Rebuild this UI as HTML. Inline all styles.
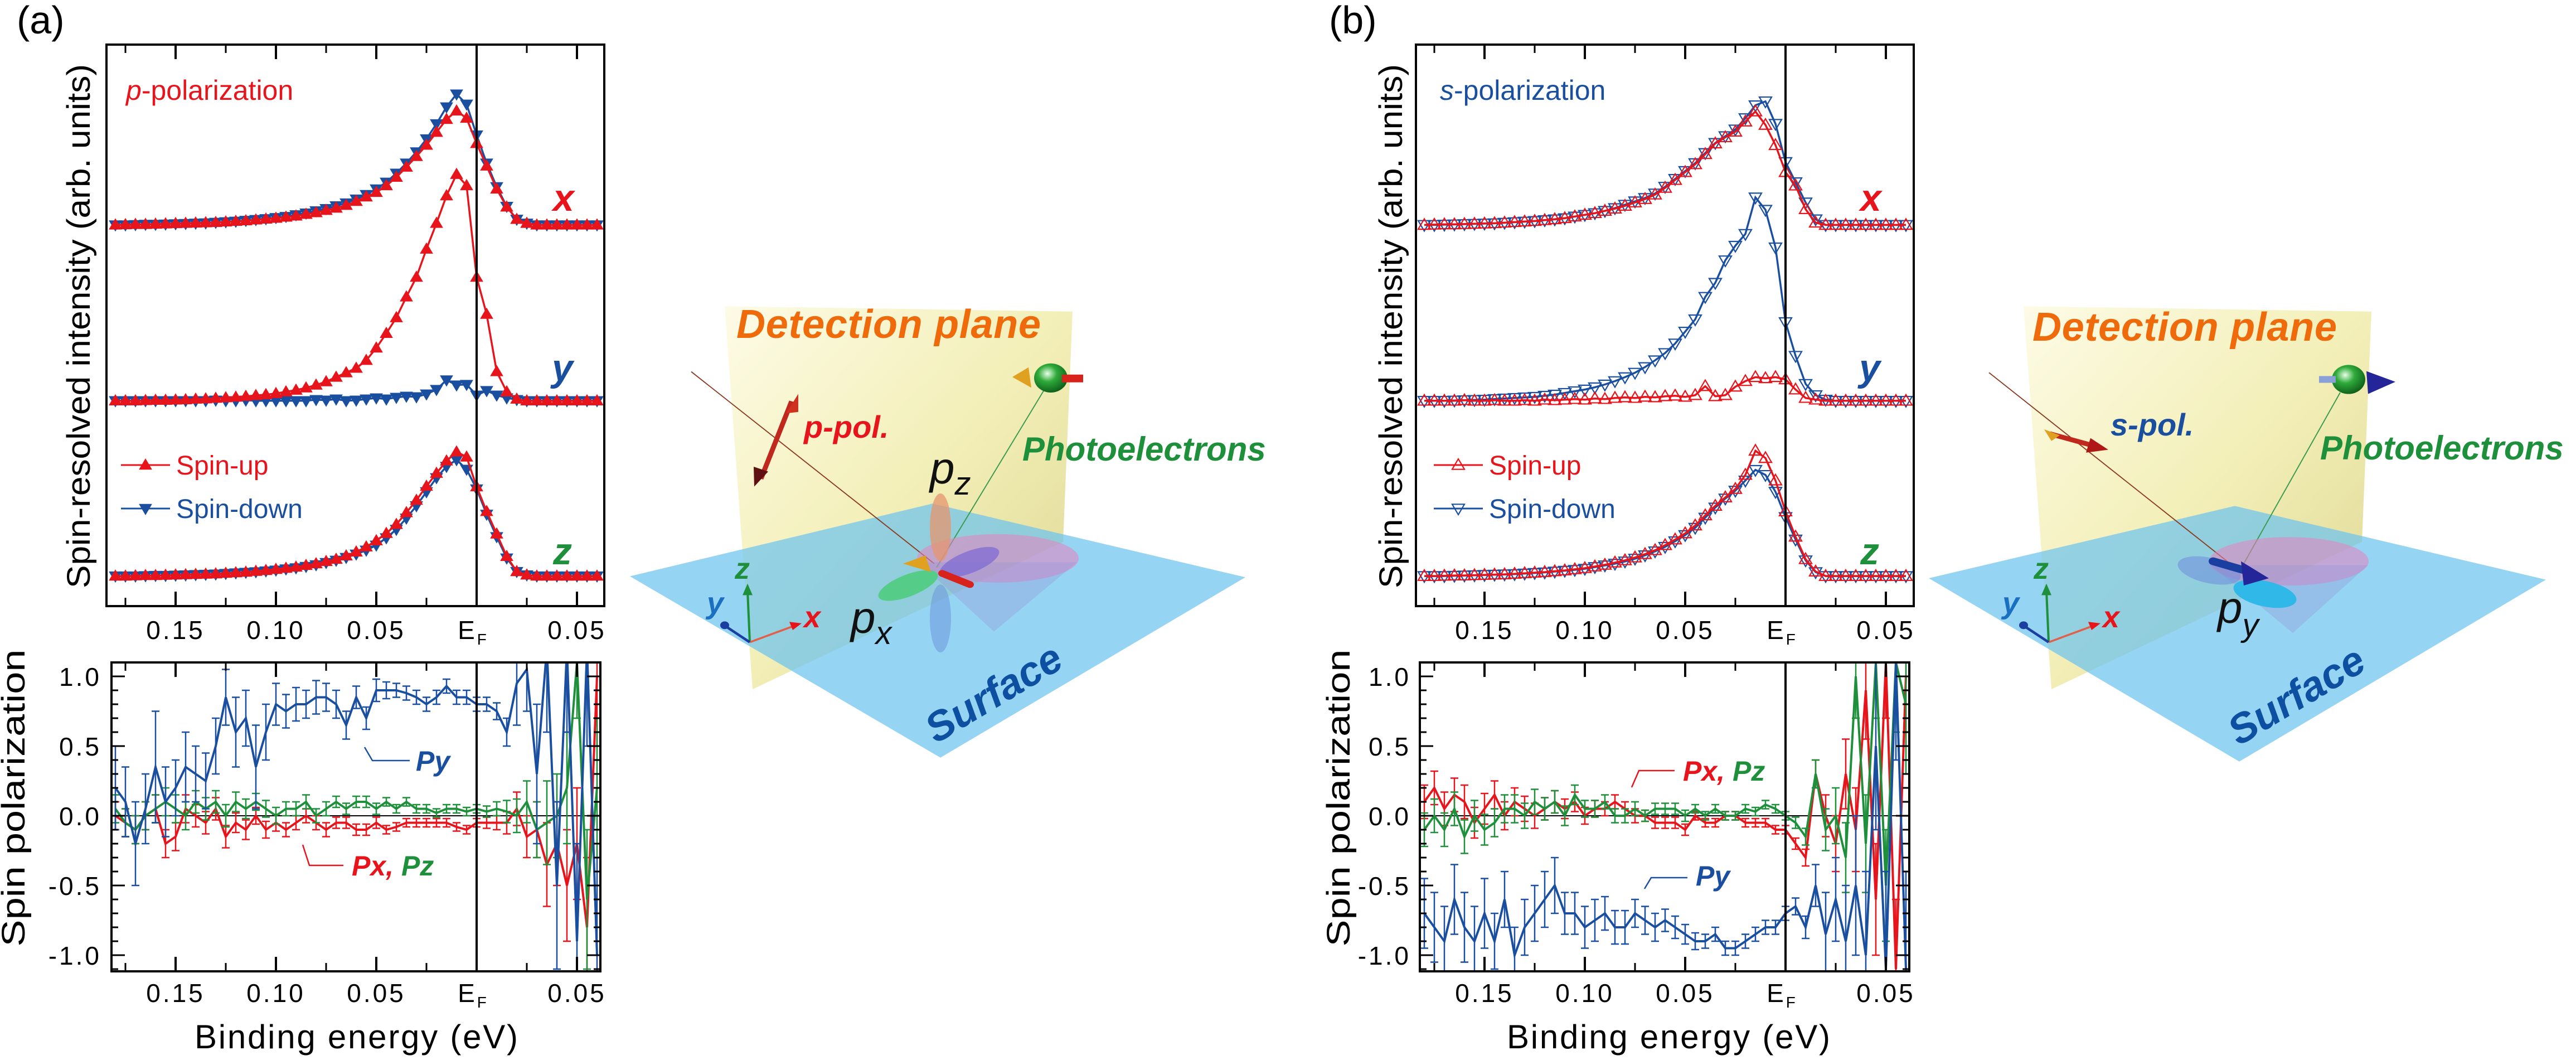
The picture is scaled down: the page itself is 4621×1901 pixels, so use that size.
<!DOCTYPE html>
<html><head><meta charset="utf-8"><style>
html,body{margin:0;padding:0;background:#fff;}
svg{display:block;font-family:"Liberation Sans",Arial,sans-serif;}
</style></head><body>
<svg id="fig" width="4621" height="1901" viewBox="0 0 4621 1901" xmlns="http://www.w3.org/2000/svg">
<defs>
<linearGradient id="yel" x1="0" y1="0" x2="1" y2="1"><stop offset="0" stop-color="#fdfbe6"/><stop offset="0.5" stop-color="#f3efb8"/><stop offset="1" stop-color="#dcd690"/></linearGradient>
<radialGradient id="ball" cx="0.4" cy="0.35" r="0.7"><stop offset="0" stop-color="#e8ffe8"/><stop offset="0.4" stop-color="#2faa3a"/><stop offset="1" stop-color="#0b5a18"/></radialGradient>
<clipPath id="clipA"><rect x="200" y="1188" width="877" height="554"/></clipPath>
<clipPath id="clipB"><rect x="2547" y="1188" width="878" height="554"/></clipPath>
</defs>

<text x="30" y="60" font-size="70">(a)</text>
<text x="2384" y="60" font-size="70">(b)</text>

<!-- Diagram A -->
<g>
 <g transform="matrix(1,0,0,0.8696,0,58.7)">
  <polygon points="1300,564 1924,575 1907,1050 1350,1354" fill="url(#yel)"/>
  <polygon points="1130,1121 1673,971 2234,1123 1687,1495" fill="rgba(110,195,238,0.72)"/>
  <line x1="1240" y1="699" x2="1676" y2="1095" stroke="#8a3a20" stroke-width="2"/>
  <line x1="1885" y1="714" x2="1680" y2="1103" stroke="#3a9a50" stroke-width="2"/>
  <ellipse cx="1790" cy="1084" rx="145" ry="50" fill="rgba(232,130,190,0.55)"/>
  <polygon points="1648,1092 1932,1092 1783,1235" fill="rgba(150,150,215,0.35)"/>
  <ellipse cx="1687" cy="1020" rx="19" ry="70" fill="rgba(230,150,110,0.75)"/>
  <ellipse cx="1687" cy="1208" rx="19" ry="70" fill="rgba(110,150,220,0.55)"/>
  <ellipse cx="1629" cy="1140" rx="58" ry="22" transform="rotate(-25 1629 1140)" fill="#55cc88"/>
  <ellipse cx="1739" cy="1092" rx="58" ry="22" transform="rotate(-25 1739 1092)" fill="rgba(130,110,210,0.8)"/>
  <line x1="1690" y1="1115" x2="1740" y2="1138" stroke="#d8221c" stroke-width="14" stroke-linecap="round"/>
  <polygon points="1620,1095 1660,1078 1670,1112" fill="#e0a020"/>
  <line x1="1420" y1="760" x2="1365" y2="920" stroke="#c0281e" stroke-width="9"/>
  <polygon points="1432,745 1410,785 1432,782" fill="#d0301e"/>
  <polygon points="1353,936 1352,895 1378,905" fill="#601010"/>
  <circle cx="1885" cy="712" r="30" fill="url(#ball)"/>
  <polygon points="1816,710 1845,690 1850,732" fill="#e0a020"/>
  <rect x="1905" y="705" width="38" height="16" fill="#d8221c"/>
  <line x1="1345" y1="1257" x2="1341" y2="1150" stroke="#1e8f3a" stroke-width="4"/>
  <polygon points="1341,1136 1332,1160 1350,1160" fill="#1e8f3a"/>
  <line x1="1345" y1="1257" x2="1425" y2="1223" stroke="#e0604a" stroke-width="4"/>
  <polygon points="1438,1218 1416,1215 1422,1232" fill="#e8141c"/>
  <line x1="1345" y1="1257" x2="1303" y2="1225" stroke="#1a3fa0" stroke-width="5"/>
  <circle cx="1300" cy="1222" r="8" fill="#1a3fa0"/>
 </g>
  <text x="1321" y="606" font-size="72" font-weight="bold" font-style="italic" fill="#ee6a0a" textLength="546">Detection plane</text>
  <text x="1442" y="785" font-size="56" font-weight="bold" font-style="italic" fill="#e8141c">p-pol.</text>
  <text x="1834" y="826" font-size="60" font-weight="bold" font-style="italic" fill="#1e8f3a">Photoelectrons</text>
  <text x="1668" y="867" font-size="80" font-style="italic" fill="#111">p<tspan font-size="58" dy="20">z</tspan></text>
  <text x="1526" y="1135" font-size="80" font-style="italic" fill="#111">p<tspan font-size="58" dy="20">x</tspan></text>
  <text x="1783" y="1268" font-size="74" font-weight="bold" font-style="italic" fill="#0d4fa0" text-anchor="middle" transform="rotate(-31 1783 1244)">Surface</text>
  <text x="1318" y="1038" font-size="54" font-weight="bold" font-style="italic" fill="#1e8f3a">z</text>
  <text x="1442" y="1125" font-size="54" font-weight="bold" font-style="italic" fill="#e8141c">x</text>
  <text x="1268" y="1100" font-size="54" font-weight="bold" font-style="italic" fill="#1b6fc0">y</text>
</g>

<!-- Diagram B -->
<g transform="translate(2330,0)">
 <g transform="matrix(1,0,0,0.8696,0,58.7)">
  <polygon points="1300,564 1924,575 1907,1050 1350,1354" fill="url(#yel)"/>
  <polygon points="1130,1125 1679,976 2237,1128 1687,1503" fill="rgba(110,195,238,0.72)"/>
  <line x1="1238" y1="701" x2="1676" y2="1100" stroke="#8a3a20" stroke-width="2"/>
  <line x1="1868" y1="742" x2="1690" y2="1105" stroke="#3a9a50" stroke-width="2"/>
  <ellipse cx="1776" cy="1090" rx="143" ry="50" fill="rgba(232,130,190,0.55)"/>
  <polygon points="1636,1098 1918,1098 1783,1238" fill="rgba(150,150,215,0.35)"/>
  <ellipse cx="1633" cy="1109" rx="58" ry="26" transform="rotate(15 1633 1109)" fill="rgba(110,140,220,0.55)"/>
  <ellipse cx="1733" cy="1157" rx="58" ry="26" transform="rotate(15 1733 1157)" fill="#30b8e8"/>
  <line x1="1640" y1="1090" x2="1700" y2="1110" stroke="#1a3fa0" stroke-width="16" stroke-linecap="round"/>
  <polygon points="1690,1090 1740,1125 1695,1140" fill="#25259a"/>
  <line x1="1347" y1="827" x2="1420" y2="850" stroke="#c0281e" stroke-width="10"/>
  <polygon points="1452,860 1420,836 1412,866" fill="#b01818"/>
  <polygon points="1337,818 1365,830 1350,842" fill="#e0a020"/>
  <circle cx="1883" cy="715" r="30" fill="url(#ball)"/>
  <rect x="1830" y="708" width="30" height="14" fill="#8aa0d8"/>
  <polygon points="1967,720 1915,698 1918,745" fill="#25259a"/>
  <line x1="1345" y1="1257" x2="1341" y2="1150" stroke="#1e8f3a" stroke-width="4"/>
  <polygon points="1341,1136 1332,1160 1350,1160" fill="#1e8f3a"/>
  <line x1="1345" y1="1257" x2="1425" y2="1223" stroke="#e0604a" stroke-width="4"/>
  <polygon points="1438,1218 1416,1215 1422,1232" fill="#e8141c"/>
  <line x1="1345" y1="1257" x2="1303" y2="1225" stroke="#1a3fa0" stroke-width="5"/>
  <circle cx="1300" cy="1222" r="8" fill="#1a3fa0"/>
 </g>
  <text x="1316" y="611" font-size="72" font-weight="bold" font-style="italic" fill="#ee6a0a" textLength="546">Detection plane</text>
  <text x="1456" y="781" font-size="56" font-weight="bold" font-style="italic" fill="#1a4fa0">s-pol.</text>
  <text x="1832" y="824" font-size="60" font-weight="bold" font-style="italic" fill="#1e8f3a">Photoelectrons</text>
  <text x="1648" y="1117" font-size="80" font-style="italic" fill="#111">p<tspan font-size="58" dy="24">y</tspan></text>
  <text x="1790" y="1272" font-size="74" font-weight="bold" font-style="italic" fill="#0d4fa0" text-anchor="middle" transform="rotate(-31 1790 1248)">Surface</text>
  <text x="1318" y="1038" font-size="54" font-weight="bold" font-style="italic" fill="#1e8f3a">z</text>
  <text x="1442" y="1125" font-size="54" font-weight="bold" font-style="italic" fill="#e8141c">x</text>
  <text x="1262" y="1100" font-size="54" font-weight="bold" font-style="italic" fill="#1b6fc0">y</text>
</g>

<!-- Static plot texts A -->
<text x="226" y="179" font-size="50" fill="#e8141c"><tspan font-style="italic">p</tspan>-polarization</text>
<text x="992" y="378" font-size="68" font-weight="bold" font-style="italic" fill="#e8141c">x</text>
<text x="990" y="683" font-size="68" font-weight="bold" font-style="italic" fill="#1a4fa0">y</text>
<text x="992" y="1012" font-size="68" font-weight="bold" font-style="italic" fill="#1e8f3a">z</text>
<text transform="translate(161,585) rotate(-90)" text-anchor="middle" font-size="58" textLength="940" lengthAdjust="spacingAndGlyphs">Spin-resolved intensity (arb. units)</text>
<text transform="translate(44,1431) rotate(-90)" text-anchor="middle" font-size="58" textLength="533" lengthAdjust="spacingAndGlyphs">Spin polarization</text>
<text x="639" y="1880" text-anchor="middle" font-size="60" textLength="580">Binding energy (eV)</text>
<text x="746" y="1382" font-size="50" font-weight="bold" font-style="italic" fill="#1a4fa0">Py</text>
<polyline points="654,1340 668,1364 735,1364" fill="none" stroke="#1a4fa0" stroke-width="2.5"/>
<text x="631" y="1570" font-size="50" font-weight="bold" font-style="italic"><tspan fill="#e8141c">Px, </tspan><tspan fill="#1e8f3a">Pz</tspan></text>
<polyline points="543,1515 555,1552 616,1552" fill="none" stroke="#e8141c" stroke-width="2.5"/>

<!-- Static plot texts B -->
<text x="2583" y="179" font-size="50" fill="#1a4fa0"><tspan font-style="italic">s</tspan>-polarization</text>
<text x="3337" y="378" font-size="68" font-weight="bold" font-style="italic" fill="#e8141c">x</text>
<text x="3335" y="683" font-size="68" font-weight="bold" font-style="italic" fill="#1a4fa0">y</text>
<text x="3337" y="1012" font-size="68" font-weight="bold" font-style="italic" fill="#1e8f3a">z</text>
<text transform="translate(2515,585) rotate(-90)" text-anchor="middle" font-size="58" textLength="940" lengthAdjust="spacingAndGlyphs">Spin-resolved intensity (arb. units)</text>
<text transform="translate(2421,1431) rotate(-90)" text-anchor="middle" font-size="58" textLength="533" lengthAdjust="spacingAndGlyphs">Spin polarization</text>
<text x="2993" y="1880" text-anchor="middle" font-size="60" textLength="580">Binding energy (eV)</text>
<text x="3019" y="1400" font-size="50" font-weight="bold" font-style="italic"><tspan fill="#e8141c">Px, </tspan><tspan fill="#1e8f3a">Pz</tspan></text>
<polyline points="2927,1412 2940,1382 3004,1382" fill="none" stroke="#e8141c" stroke-width="2.5"/>
<text x="3042" y="1588" font-size="50" font-weight="bold" font-style="italic" fill="#1a4fa0">Py</text>
<polyline points="2950,1594 2962,1574 3027,1574" fill="none" stroke="#1a4fa0" stroke-width="2.5"/>

<g id="plots"></g>
</svg>
<script>
const energies=[0.18,0.175,0.17,0.165,0.16,0.155,0.15,0.145,0.14,0.135,0.13,0.125,0.12,0.115,0.11,0.105,0.1,0.095,0.09,0.085,0.08,0.075,0.07,0.065,0.06,0.055,0.05,0.045,0.04,0.035,0.03,0.025,0.02,0.015,0.01,0.005,0,-0.005,-0.01,-0.015,-0.02,-0.025,-0.03,-0.035,-0.04,-0.045,-0.05,-0.055,-0.06];
const curveOffsets={x:67.9,y:36.6,z:5.4};
// Panel (a) intensities
const aXUp=[0,0.05,0.1,0.1,0.15,0.2,0.25,0.3,0.35,0.4,0.45,0.55,0.65,0.75,0.9,1.05,1.2,1.4,1.6,1.9,2.2,2.6,3.0,3.5,4.2,5.0,5.8,7.0,8.5,10.3,12.2,14.2,16.5,18.8,20.3,19.0,14.5,10.5,6.4,3.2,1.0,0.3,0,0,0,0,0,0,0];
const aXDown=[0,0,0.05,0.1,0.1,0.15,0.2,0.25,0.3,0.35,0.45,0.55,0.65,0.8,0.95,1.1,1.3,1.5,1.8,2.1,2.5,2.9,3.4,3.9,4.6,5.4,6.4,7.6,9.2,11.0,13.0,15.3,18.0,21.0,23.3,21.5,16.0,11.0,6.8,3.3,1.0,0.3,0,0,0,0,0,0,0];
const aYUp=[0,0,0,0.05,0.1,0.1,0.15,0.2,0.3,0.35,0.45,0.55,0.65,0.8,0.95,1.1,1.3,1.6,1.9,2.3,2.8,3.4,4.2,5.0,5.8,7.2,9.4,12.0,14.8,18.5,22.0,27.0,31.6,36.5,40.3,38.3,22.0,15.4,5.2,1.6,0.3,0,0,0,0,0,0,0,0];
const aYDown=[0,0,0,0,0,0,0,0,0,0,0.1,0,0,0.1,0,0,0,0,0,0,0.2,0.1,0.3,0,0.1,0.3,0.5,0.3,0.6,0.8,0.7,1.2,2.0,3.7,2.8,2.9,1.0,1.8,1.0,0.5,0.2,0,0,0,0,0,0,0,0];
const aZUp=[0,0,0.05,0.1,0.1,0.15,0.2,0.25,0.3,0.35,0.4,0.5,0.6,0.7,0.85,1.0,1.2,1.4,1.6,1.9,2.2,2.6,3.0,3.6,4.3,5.2,6.3,7.6,9.2,11.3,13.5,16.0,18.3,20.5,22.1,21.2,15.9,11.5,7.5,3.5,0.8,0.2,0,0,0,0,0,0,0];
const aZDown=[0,0,0,0.05,0.1,0.1,0.15,0.2,0.25,0.3,0.35,0.45,0.55,0.65,0.75,0.9,1.05,1.25,1.45,1.7,2.0,2.4,2.8,3.3,3.9,4.6,5.5,6.8,8.3,10.3,12.5,15.0,17.5,19.5,20.7,19.0,15.5,11.0,7.0,3.2,0.8,0.2,0,0,0,0,0,0,0];
// Panel (b) intensities
const bXUp=[0,0.05,0.1,0.1,0.15,0.2,0.25,0.3,0.4,0.5,0.6,0.7,0.85,1.0,1.2,1.5,1.8,2.1,2.5,2.9,3.4,4.0,4.6,5.4,6.6,8.0,9.4,10.8,12.6,14.5,15.6,16.6,18.4,20.2,17.8,14.2,9.4,7.0,2.8,0.4,0,0,0,0,0,0,0,0,0];
const bXDown=[0,0,0.05,0.1,0.15,0.2,0.25,0.3,0.4,0.5,0.6,0.7,0.85,1.0,1.2,1.5,1.8,2.1,2.5,3.0,3.6,4.2,4.8,5.6,6.8,8.2,9.6,11.0,12.8,14.6,15.8,17.0,19.0,21.3,22.0,18.0,11.2,7.6,4.0,1.0,0,0,0,0,0,0,0,0,0];
const bYUp=[0,0,0,0,0.1,0,0,0.1,0,0,0.1,0,0.2,0.1,0.2,0.3,0.2,0.4,0.3,0.5,0.6,0.5,0.7,0.6,0.8,0.9,0.7,1.0,2.6,0.8,1.0,2.5,3.5,4.2,4.0,4.2,3.8,2.0,0.5,0.2,0,0,0,0,0,0,0,0,0];
const bYDown=[0,0,0,0.05,0.1,0.15,0.2,0.3,0.4,0.5,0.6,0.7,0.9,1.1,1.4,1.7,2.0,2.4,2.9,3.5,4.2,5.0,6.0,7.2,8.5,10.2,12.3,14.5,18.5,21.0,25.0,27.6,29.7,36.2,34.0,27.3,14.0,8.0,3.0,1.0,0.2,0,0,0,0,0,0,0,0];
const bZUp=[0,0,0.05,0.1,0.1,0.15,0.2,0.25,0.3,0.4,0.5,0.6,0.7,0.85,1.0,1.2,1.4,1.7,2.0,2.4,2.8,3.3,3.9,4.6,5.5,6.5,7.6,9.0,10.8,12.5,14.0,15.5,18.0,22.3,21.0,17.0,11.5,7.0,3.0,0.8,0,0,0,0,0,0,0,0,0];
const bZDown=[0,0,0,0.05,0.1,0.15,0.2,0.25,0.3,0.35,0.45,0.55,0.65,0.8,0.95,1.1,1.3,1.6,1.9,2.2,2.6,3.1,3.7,4.4,5.2,6.2,7.3,8.6,10.4,12.2,13.8,15.2,17.0,18.9,18.0,15.0,10.5,6.5,2.8,0.7,0,0,0,0,0,0,0,0,0];
// Spin polarization
const aPy=[0.2,0.1,-0.2,0.05,0.35,0.1,0.2,0.35,0.3,0.25,0.5,0.85,0.6,0.7,0.35,0.6,0.8,0.75,0.8,0.8,0.85,0.85,0.8,0.65,0.85,0.7,0.9,0.9,0.9,0.88,0.85,0.8,0.85,0.93,0.85,0.85,0.8,0.8,0.75,0.6,0.95,1.05,0.3,1.2,-0.5,1.2,-0.9,1.2,-1.0];
const aPx=[0.0,-0.05,-0.1,0.0,0.05,-0.2,-0.15,0.05,0.0,-0.05,0.05,-0.15,-0.05,-0.1,0.0,-0.1,-0.05,-0.1,-0.05,0.0,-0.05,-0.1,-0.05,-0.05,-0.1,-0.1,-0.05,-0.1,-0.08,-0.05,-0.05,-0.05,-0.05,-0.05,-0.08,-0.1,-0.05,-0.05,-0.05,-0.05,0.05,-0.15,-0.1,-0.35,-0.2,-0.5,-0.2,-0.8,1.0];
const aPz=[0.05,-0.05,-0.1,0.0,0.05,0.1,0.05,0.0,0.1,0.05,0.1,0.0,0.1,0.05,0.1,0.05,0.0,0.05,0.05,0.1,0.0,0.05,0.1,0.05,0.1,0.1,0.05,0.1,0.05,0.1,0.05,0.05,0.02,0.05,0.05,0.03,0.05,0.03,0.05,0.03,0.0,0.1,-0.1,-0.05,0.0,0.2,1.1,-0.6,0.2];
const bPy=[-0.7,-0.8,-0.9,-0.6,-0.8,-0.9,-0.7,-0.9,-0.6,-1.0,-0.8,-0.7,-0.6,-0.5,-0.7,-0.7,-0.8,-0.75,-0.7,-0.8,-0.8,-0.7,-0.75,-0.8,-0.75,-0.8,-0.85,-0.9,-0.9,-0.85,-0.95,-0.95,-0.9,-0.85,-0.8,-0.8,-0.7,-0.65,-0.8,-0.5,-0.85,-0.6,-0.9,-0.5,-1.0,0.5,-1.1,1.1,-1.1];
const bPx=[0.1,0.2,0.05,0.15,0.1,-0.05,0.05,0.15,0.0,0.1,0.05,0.0,0.05,0.1,0.05,0.1,0.0,0.05,0.05,0.1,0.05,0.0,0.0,-0.05,-0.05,-0.05,-0.1,0.0,-0.05,-0.05,0.0,0.0,-0.05,-0.05,-0.05,-0.1,-0.1,-0.2,-0.3,0.3,0.0,-0.2,0.3,-0.1,0.9,-0.6,1.1,-1.1,1.0];
const bPz=[-0.1,0.0,-0.1,0.05,-0.15,0.0,-0.1,-0.05,0.05,0.05,0.0,0.1,0.05,0.1,0.0,0.15,0.05,0.05,0.1,0.0,0.0,0.05,0.0,0.05,0.05,0.05,0.0,0.05,0.0,0.05,0.0,0.0,0.05,0.03,0.08,0.05,0.0,-0.05,-0.15,0.3,-0.1,0.0,-0.3,1.0,-0.2,1.1,-0.5,1.1,0.8];
const errPyA=[0.3,0.25,0.3,0.25,0.4,0.25,0.2,0.25,0.2,0.2,0.2,0.2,0.25,0.2,0.3,0.2,0.15,0.12,0.12,0.1,0.12,0.1,0.1,0.1,0.08,0.08,0.08,0.06,0.05,0.05,0.05,0.05,0.05,0.05,0.05,0.05,0.05,0.05,0.06,0.1,0.3,0.3,0.5,0.6,0.6,0.6,0.7,0.7,0.7];
const errPxzA=[0.1,0.1,0.1,0.1,0.1,0.1,0.1,0.1,0.08,0.08,0.08,0.08,0.07,0.07,0.06,0.06,0.06,0.05,0.05,0.05,0.05,0.05,0.04,0.04,0.04,0.04,0.04,0.03,0.03,0.03,0.03,0.03,0.03,0.03,0.03,0.03,0.03,0.04,0.05,0.08,0.12,0.15,0.2,0.3,0.3,0.4,0.4,0.5,0.5];
const errPyB=[0.25,0.25,0.25,0.25,0.25,0.25,0.25,0.2,0.2,0.2,0.2,0.2,0.2,0.2,0.15,0.15,0.15,0.15,0.12,0.12,0.12,0.1,0.1,0.1,0.08,0.08,0.07,0.06,0.05,0.05,0.05,0.05,0.05,0.05,0.05,0.05,0.05,0.06,0.08,0.15,0.3,0.3,0.4,0.5,0.6,0.6,0.7,0.7,0.7];
const errPxzB=[0.12,0.12,0.12,0.12,0.12,0.11,0.11,0.1,0.1,0.1,0.09,0.09,0.08,0.08,0.07,0.07,0.06,0.06,0.05,0.05,0.05,0.05,0.04,0.04,0.04,0.04,0.04,0.03,0.03,0.03,0.03,0.03,0.03,0.03,0.03,0.03,0.03,0.04,0.06,0.1,0.15,0.2,0.25,0.3,0.35,0.4,0.4,0.5,0.5];
const xTickVals=[0.15,0.10,0.05,0,-0.05];
const xTickLabels=['0.15','0.10','0.05','E','0.05'];
const xMinorVals=[0.175,0.125,0.075,0.025,-0.025];
const yTickVals=[1,0.5,0,-0.5,-1];
const yTickLabels=['1.0','0.5','0.0','-0.5','-1.0'];

const NS='http://www.w3.org/2000/svg';
const root=document.getElementById('plots');
const RED='#e8141c',BLUE='#1a4fa0',GREEN='#1e8f3a';
function mk(tag,attrs,parent){const el=document.createElementNS(NS,tag);for(const k in attrs)el.setAttribute(k,attrs[k]);(parent||root).appendChild(el);return el;}

const panels=[
 {efX:855,top:{l:191,r:1084,t:80,b:1087},bot:{l:200,r:1077,t:1188,b:1742},filled:true,clip:'url(#clipA)',ylabX:182,legX:217,
  series:[[aXUp,aXDown,'x'],[aYUp,aYDown,'y'],[aZUp,aZDown,'z']],pol:[[aPx,errPxzA,RED],[aPz,errPxzA,GREEN],[aPy,errPyA,BLUE]]},
 {efX:3203,top:{l:2540,r:3433,t:80,b:1087},bot:{l:2547,r:3425,t:1188,b:1742},filled:false,clip:'url(#clipB)',ylabX:2531,legX:2572,
  series:[[bXUp,bXDown,'x'],[bYUp,bYDown,'y'],[bZUp,bZDown,'z']],pol:[[bPx,errPxzB,RED],[bPz,errPxzB,GREEN],[bPy,errPyB,BLUE]]}
];
function xOf(p,e){return p.efX-e*3600;}
function yInt(v,off){return 1087.5-(off+v)*10.075;}
function yPol(v){return 1463-v*250;}
function tri(g,x,y,up,color,filled){
  const s=11;const pts=up?`${x},${y-s} ${x-s},${y+s*0.7} ${x+s},${y+s*0.7}`:`${x},${y+s} ${x-s},${y-s*0.7} ${x+s},${y-s*0.7}`;
  const t=mk('polygon',{points:pts,fill:filled?color:'none',stroke:color,'stroke-width':filled?1:2.2},g);
  
  
}
panels.forEach((p,pi)=>{
  const g=mk('g',{});
  
  
  p.series.forEach(([up,dn,key])=>{
    const off=curveOffsets[key];
    [[dn,BLUE,false],[up,RED,true]].forEach(([arr,col,isUp])=>{
      const d=arr.map((v,i)=>`${i?'L':'M'}${xOf(p,energies[i]).toFixed(1)},${yInt(v,off).toFixed(1)}`).join('');
      const path=mk('path',{d:d,fill:'none',stroke:col,'stroke-width':3.5},g);
      
      
      arr.forEach((v,i)=>tri(g,xOf(p,energies[i]),yInt(v,off),isUp,col,p.filled));
    });
  });
  const pg=mk('g',{'clip-path':p.clip},g);
  
  
  const zl=mk('line',{x1:p.bot.l,x2:p.bot.r,y1:yPol(0),y2:yPol(0),stroke:'#000','stroke-width':2},pg);
  
  
  p.pol.forEach(([arr,err,col],si)=>{
    const nm=['px','pz','py'][si];
    arr.forEach((v,i)=>{
      const x=xOf(p,energies[i]),y1=yPol(v+err[i]),y2=yPol(v-err[i]);
      const eb=mk('path',{d:`M${x},${y1}V${y2}M${x-7},${y1}H${x+7}M${x-7},${y2}H${x+7}`,stroke:col,'stroke-width':2.5,fill:'none'},pg);
      
      
    });
    const d=arr.map((v,i)=>`${i?'L':'M'}${xOf(p,energies[i]).toFixed(1)},${yPol(v).toFixed(1)}`).join('');
    const l=mk('path',{d:d,fill:'none',stroke:col,'stroke-width':4},pg);
    
    
  });
  [p.top,p.bot].forEach((f,fi)=>{
    const r=mk('rect',{x:f.l,y:f.t,width:f.r-f.l,height:f.b-f.t,fill:'none',stroke:'#000','stroke-width':4},g);
    
    
    const ef=mk('line',{x1:p.efX,x2:p.efX,y1:f.t,y2:f.b,stroke:'#000','stroke-width':4},g);
    
    
    xTickVals.forEach(e=>{const x=xOf(p,e);
      const t=mk('path',{d:`M${x},${f.t}v26M${x},${f.b}v-26`,stroke:'#000','stroke-width':4},g);
      
      });
    xMinorVals.forEach(e=>{const x=xOf(p,e);
      const t=mk('path',{d:`M${x},${f.t}v15M${x},${f.b}v-15`,stroke:'#000','stroke-width':3},g);
      
      });
    xTickVals.forEach((e,k)=>{
      const t=mk('text',{x:xOf(p,e)+(k===3?-6:0),y:fi?1797:1146,'text-anchor':'middle','font-size':46,'letter-spacing':4},g);
      t.textContent=xTickLabels[k];
      if(k===3){const s=mk('tspan',{'font-size':28,dy:10},t);s.textContent='F';}
      
      
    });
  });
  for(let k=-11;k<=11;k++){const v=k/10;const y=yPol(v);const major=(k%5===0);
    const t=mk('path',{d:`M${p.bot.l},${y}h${major?24:12}M${p.bot.r},${y}h${major?-24:-12}`,stroke:'#000','stroke-width':3},g);
    
    }
  yTickVals.forEach((v,k)=>{
    const t=mk('text',{x:p.ylabX,y:yPol(v)+17,'text-anchor':'end','font-size':46,'letter-spacing':4},g);
    t.textContent=yTickLabels[k];
    
    
  });
  [['Spin-up',RED,true,834],['Spin-down',BLUE,false,912]].forEach(([lab,col,up,y])=>{
    const l=mk('line',{x1:p.legX,x2:p.legX+88,y1:y,y2:y,stroke:col,'stroke-width':3},g);
    
    
    tri(g,p.legX+44,y,up,col,p.filled);
    const t=mk('text',{x:p.legX+99,y:y+17,'font-size':48,fill:col},g);
    t.textContent=lab;
    
    
  });
});
</script>
</body></html>
